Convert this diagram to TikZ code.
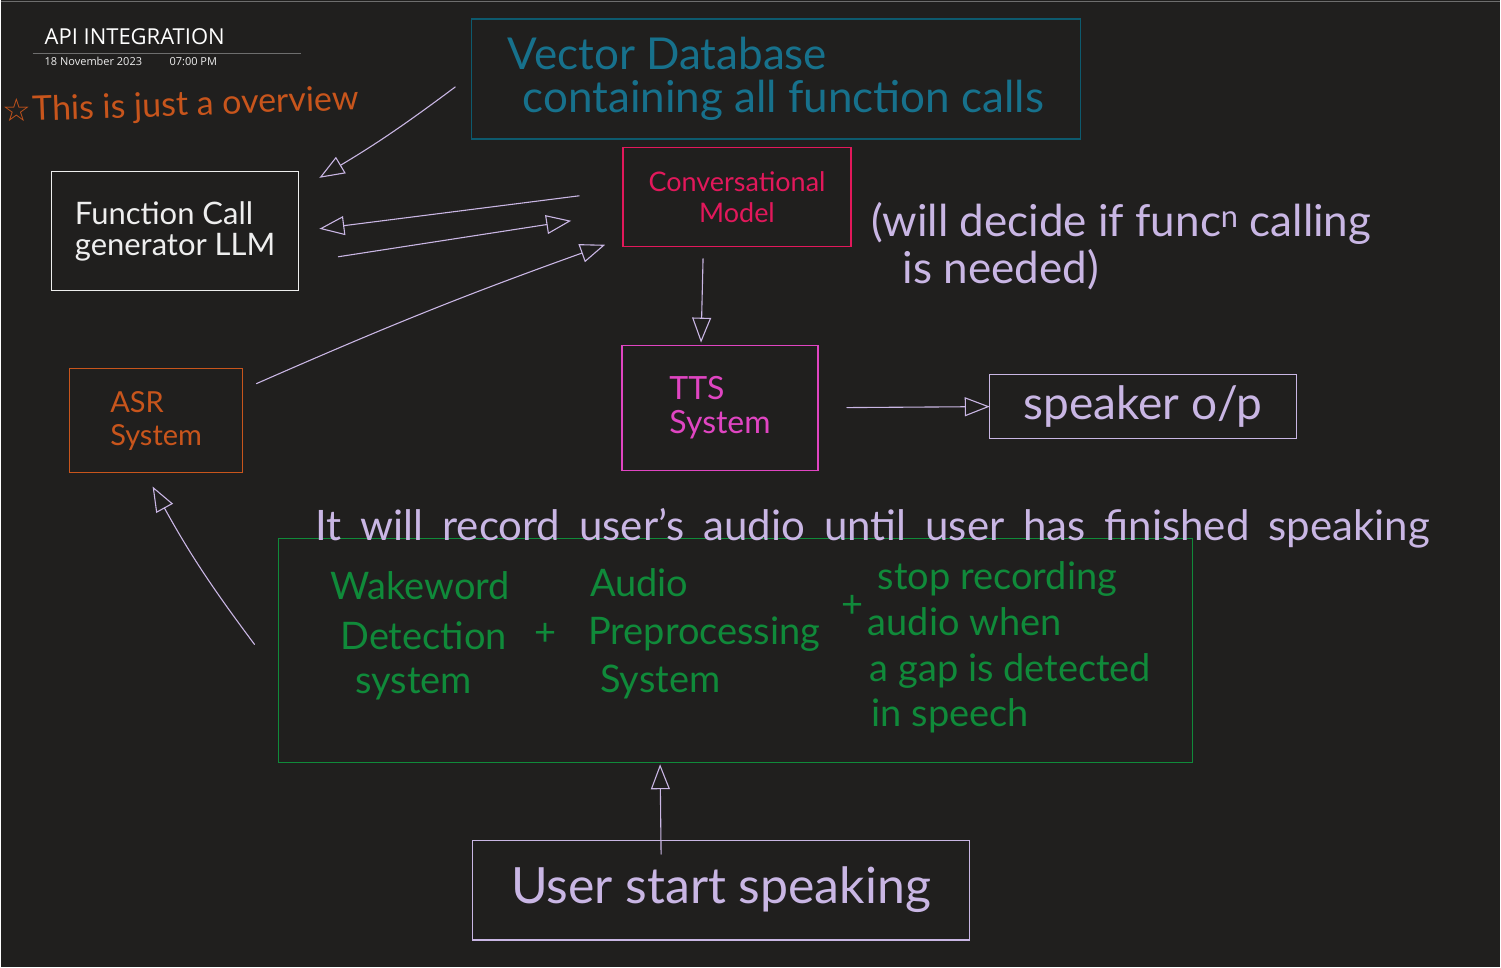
\documentclass[tikz,border=0pt]{standalone}
\usepackage{fontspec}
\setmainfont{Lato}
\newfontfamily\headfont{Open Sans}
\newfontfamily\symfont{DejaVu Sans}
\usetikzlibrary{arrows.meta,positioning}

\definecolor{bgcol}{HTML}{201F1E}
\definecolor{topgray}{HTML}{6E6E6E}
\definecolor{lilac}{HTML}{C9B6E4}
\definecolor{dbteal}{HTML}{0D5A6E}
\definecolor{dbtext}{HTML}{17718C}
\definecolor{convred}{HTML}{E2185B}
\definecolor{ttspink}{HTML}{E045C2}
\definecolor{asrorange}{HTML}{C8551C}
\definecolor{wakegreen}{HTML}{108A3A}
\definecolor{fcwhite}{HTML}{EEEEEE}

\begin{document}
\begin{tikzpicture}[x=1pt, y=-1pt,
    every node/.style={inner sep=0pt, outer sep=0pt},
    box/.style={draw, line width=1.3pt, anchor=north west, align=left},
    line/.style={anchor=base west},
    ink/.style={draw=lilac, line width=1.1pt, line cap=round,
      -{Triangle[open, length=25pt, width=19pt, line width=1.1pt]}}]

    % Page
    \fill[bgcol] (0,0) rectangle (1501,968);
    \draw[topgray, line width=1.5pt] (0,1.5) -- (1501,1.5);

    % Header
    \node[line, text=white, font=\headfont\fontsize{22}{26}\selectfont] (title) at (44,45) {API INTEGRATION};
    \draw[topgray, line width=0.8pt] (32,53) -- (301,53);
    \node[line, text=fcwhite, font=\headfont\fontsize{11}{13}\selectfont] (date) at (44,66) {18 November 2023};
    \node[line, text=fcwhite, font=\headfont\fontsize{11}{13}\selectfont] (time) at (169,66) {07:00 PM};

    % Note
    \node[line, text=asrorange, font=\symfont\fontsize{32}{36}\selectfont] (star) at (2,122) {☆};
    \node[line, text=asrorange, font=\fontsize{34}{40}\selectfont, rotate=2] (note) at (32,121) {This is just a overview};

    % Boxes
    \node[box, draw=dbteal, text=dbtext, minimum width=610, minimum height=120,
      font=\fontsize{44}{43}\selectfont] (vdb) at (471,19) {Vector Database\\\hspace*{15pt}containing all function calls};
    \node[box, draw=convred, text=convred, align=center, minimum width=228, minimum height=99,
      font=\fontsize{27}{31}\selectfont] (conv) at (623,148) {Conversational\\Model};
    \node[box, draw=fcwhite, text=fcwhite, minimum width=247, minimum height=119,
      font=\fontsize{31}{31}\selectfont] (fcall) at (51,172) {Function Call\\generator LLM};
    \node[box, draw=asrorange, text=asrorange, minimum width=173, minimum height=104,
      font=\fontsize{29}{33}\selectfont] (asr) at (69,369) {ASR\\System};
    \node[box, draw=ttspink, text=ttspink, minimum width=196, minimum height=125,
      font=\fontsize{32}{34}\selectfont] (tts) at (622,346) {TTS\\System};
    \node[box, draw=lilac, text=lilac, minimum width=307, minimum height=64,
      font=\fontsize{46}{50}\selectfont] (spk) at (990,375) {speaker o/p};
    \node[box, draw=wakegreen, minimum width=915, minimum height=224] (gate) at (278,539) {};
    \node[box, draw=lilac, text=lilac, minimum width=498, minimum height=100,
      font=\fontsize{50}{54}\selectfont] (user) at (472,841) {User start speaking};

    % Remarks
    \node[line, text=lilac, font=\fontsize{44}{46}\selectfont] (decide1) at (872,237) {(will decide if func\textsuperscript{n} calling};
    \node[line, text=lilac, font=\fontsize{44}{46}\selectfont] (decide2) at (903,284) {is needed)};
    \node[line, text=lilac, font=\fontsize{42}{44}\selectfont] (record) at (315,541) {\spaceskip=19pt\relax It will record user’s audio until user has finished speaking};

    % Wakeword block
    \begin{scope}[every node/.append style={text=wakegreen, font=\fontsize{38}{40}\selectfont}]
      \node[line] (wake1) at (330,600) {Wakeword};
      \node[line] (wake2) at (340,650) {Detection};
      \node[line] (wake3) at (355,694) {system};
      \node (plus1) at (545,635) {+};
      \node[line] (pre1) at (590,597) {Audio};
      \node[line] (pre2) at (588,645) {Preprocessing};
      \node[line] (pre3) at (600,693) {System};
      \node (plus2) at (853,607) {+};
      \node[line] (stop1) at (878,590) {stop recording};
      \node[line] (stop2) at (868,636) {audio when};
      \node[line] (stop3) at (870,682) {a gap is detected};
      \node[line] (stop4) at (872,727) {in speech};
    \end{scope}

    % Connectors
    \coordinate (a1) at (455,87);  \coordinate (a1h) at (319,178);
    \coordinate (a2) at (579,196); \coordinate (a2h) at (319,229);
    \coordinate (a3) at (338,257); \coordinate (a3h) at (571,221);
    \coordinate (a4) at (256,384); \coordinate (a4h) at (605,245);
    \coordinate (a5) at (703,259); \coordinate (a5h) at (701,343);
    \coordinate (a6) at (847,408);
    \coordinate (a7) at (254,645); \coordinate (a7h) at (152,487);
    \coordinate (a8) at (661,855); \coordinate (a8h) at (660,765);

    \draw[ink] (a1) to[bend left=3] (a1h);
    \draw[ink] (a2) -- (a2h);
    \draw[ink] (a3) -- (a3h);
    \draw[ink] (a4) to[bend left=2] (a4h);
    \draw[ink] (a5) -- (a5h);
    \draw[ink] (a6) -- (spk.west);
    \draw[ink] (a7) to[bend left=4] (a7h);
    \draw[ink] (a8) -- (a8h);
\end{tikzpicture}
\end{document}
